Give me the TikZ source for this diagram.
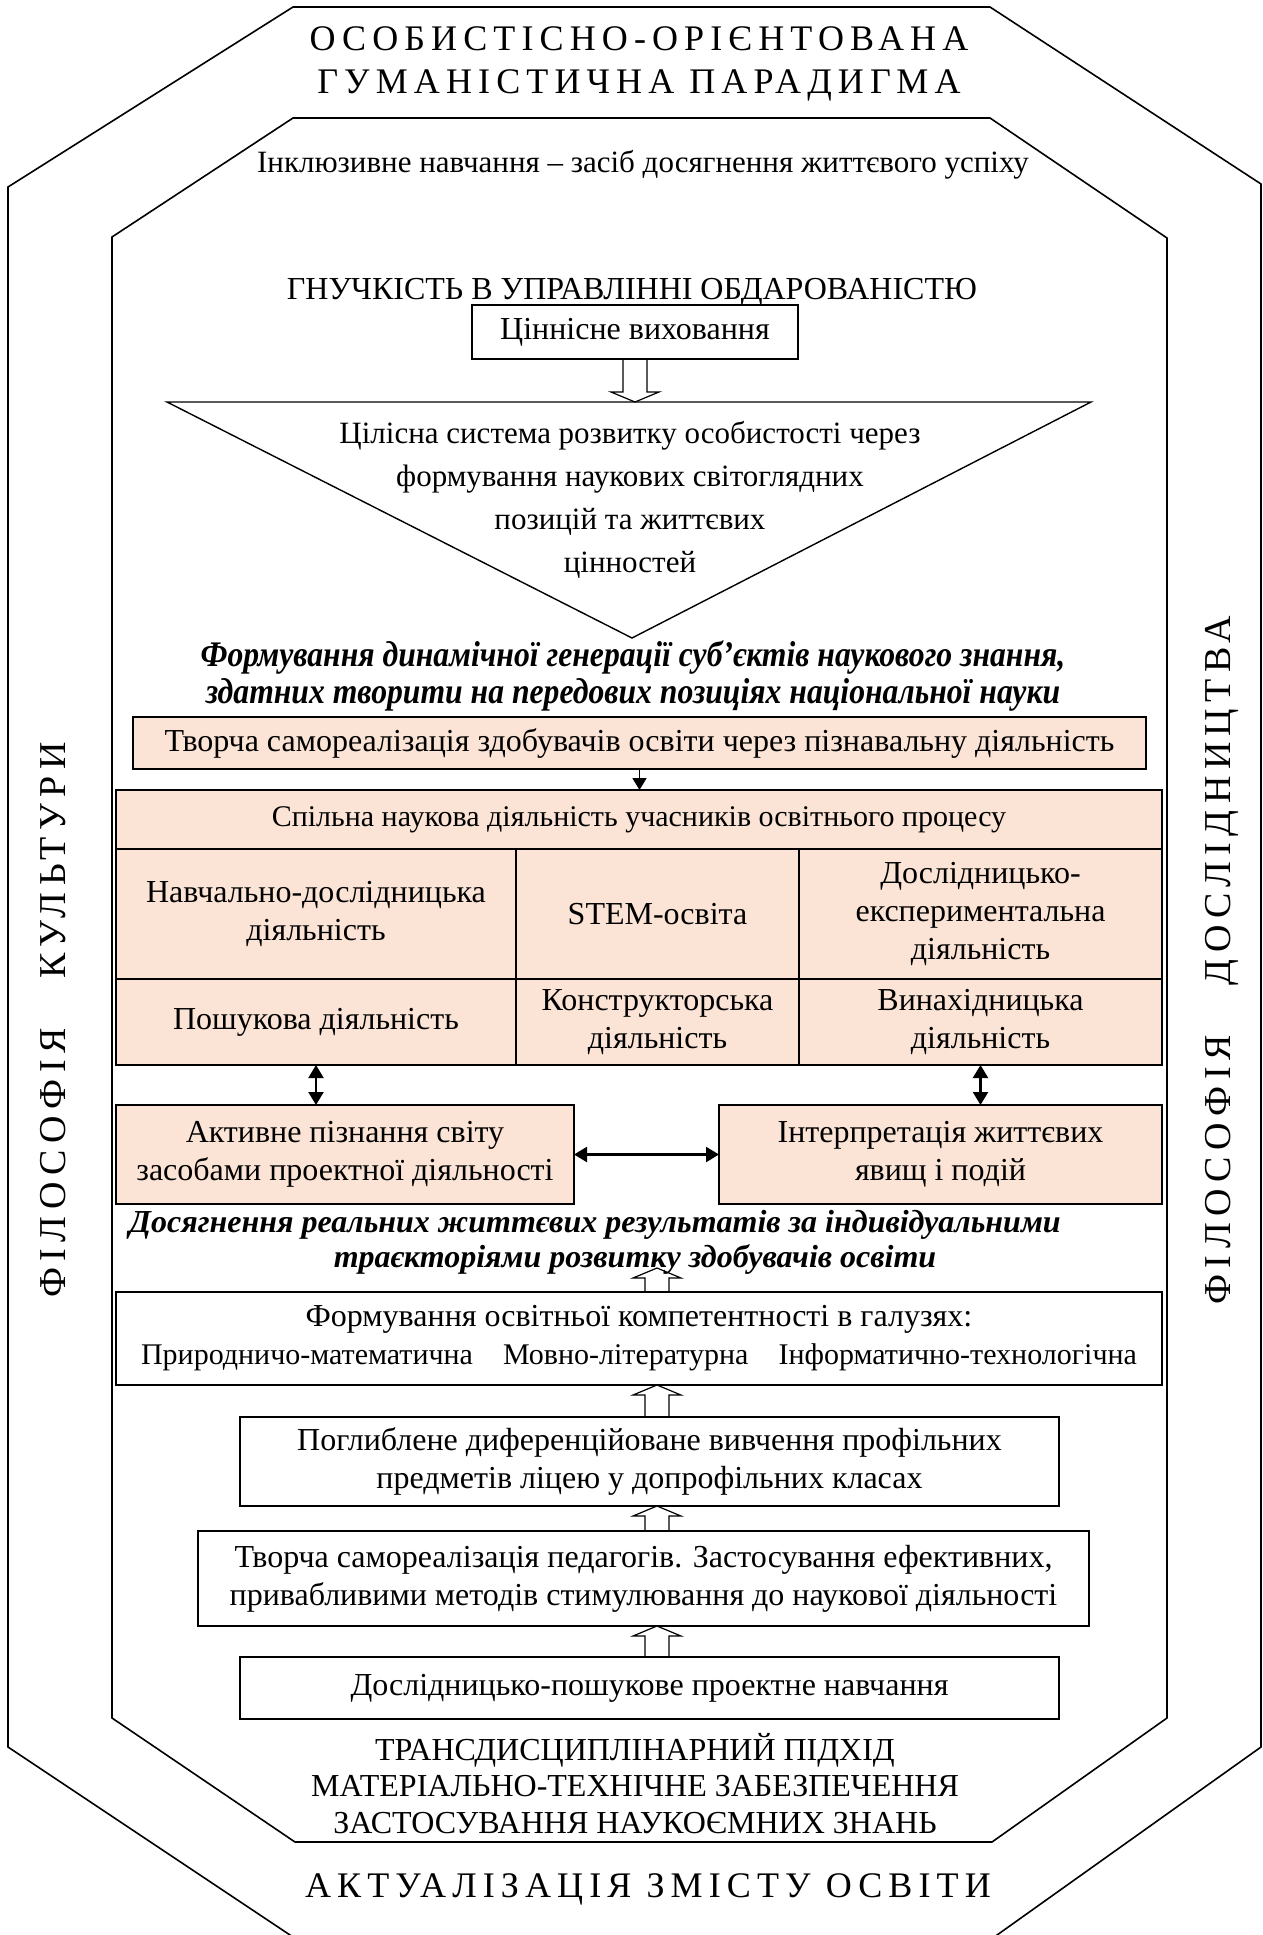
\documentclass[tikz,border=0pt]{standalone}
\usepackage{fontspec}
\setmainfont{Liberation Serif}
\newfontfamily\spacedfont[LetterSpace=17]{Liberation Serif}
\newfontfamily\sidefam[LetterSpace=17]{Liberation Serif}
\newfontfamily\condfam[FakeStretch=0.88]{Liberation Serif}
\usetikzlibrary{arrows.meta,positioning,calc}
\definecolor{peach}{HTML}{FBE4D5}
\newcommand\bodyfont{\fontsize{32}{38}\selectfont}
\newcommand\trifont{\fontsize{31}{43}\selectfont}
\newcommand\capsfont{\spacedfont\fontsize{36}{43}\selectfont}
\newcommand\sidefont{\sidefam\fontsize{38}{40}\selectfont}
\newcommand\emfont{\bfseries\itshape\fontsize{32}{34}\selectfont}
\newcommand\condfont{\condfam\bfseries\itshape\fontsize{36}{37}\selectfont}
\tikzset{
  rim/.style={line width=1.6pt},
  box/.style={draw,line width=1.4pt,align=center,inner sep=0pt,outer sep=0pt,font=\bodyfont},
  peachbox/.style={box,fill=peach},
  cell/.style={peachbox,anchor=north west},
  plain/.style={align=center,inner sep=0pt,font=\bodyfont},
  hollow/.style={line width=1.2pt},
  linkarrow/.style={line width=1.8pt,-{Triangle[length=12pt,width=14pt]}},
  bothway/.style={line width=2.2pt,{Triangle[length=13pt,width=15pt]}-{Triangle[length=13pt,width=15pt]}}
}
% hollow block arrow: from #1 to tip #2, #3 = signed head length
\newcommand\blockarrow[3]{%
  \draw[hollow] ($(#1)+(-12,0)$) -- ($(#2)+(-12,#3)$) -- ($(#2)+(-24,#3)$) -- (#2)
    -- ($(#2)+(24,#3)$) -- ($(#2)+(12,#3)$) -- ($(#1)+(12,0)$);}

\begin{document}
\begin{tikzpicture}[x=1pt,y=-1pt]
\useasboundingbox (0,0) rectangle (1263,1935);
% two octagons
\draw[rim] (293,7) -- (990,7) -- (1261,184) -- (1261,1747) -- (983,1945) -- (305,1945) -- (8,1747) -- (8,187) -- cycle;
\draw[rim] (293,118) -- (990,118) -- (1167,238) -- (1167,1718) -- (992,1842) -- (295,1842) -- (112,1718) -- (112,237) -- cycle;

\node[plain,font=\capsfont] (paradigm) at (639,64) {ОСОБИСТІСНО-ОРІЄНТОВАНА\\ГУМАНІСТИЧНА ПАРАДИГМА};
\node[plain,font=\fontsize{31}{38}\selectfont] (inclus) at (643,165) {Інклюзивне навчання – засіб досягнення життєвого успіху};
\node[plain] (gnuch) at (632,292) {ГНУЧКІСТЬ В УПРАВЛІННІ ОБДАРОВАНІСТЮ};
\node[box,minimum width=326pt,minimum height=54pt] (cinn) at (635,332) {Ціннісне виховання};

% triangle
\coordinate (tl) at (167,402);
\coordinate (tr) at (1091,402);
\coordinate (apex) at (632,638);
\draw[line width=1.4pt] (tl) -- (tr) -- (apex) -- cycle;
\node[plain,font=\trifont] (tritext) at (630,500) {Цілісна система розвитку особистості через\\формування наукових світоглядних\\позицій та життєвих\\цінностей};
\blockarrow{cinn.south}{cinn.south |- tl}{-10}

\node[plain,font=\condfont] (generac) at (633,676) {Формування динамічної генерації суб’єктів наукового знання,\\здатних творити на передових позиціях національної науки};
\node[peachbox,minimum width=1013pt,minimum height=52pt] (tvorzd) at (639.5,743) {Творча самореалізація здобувачів освіти через пізнавальну діяльність};

% grid
\node[cell,font=\fontsize{30}{37}\selectfont,minimum width=1046pt,minimum height=59pt] (spilna) at (116,790) {Спільна наукова діяльність учасників освітнього процесу};
\node[cell,minimum width=400pt,minimum height=130pt] (navch) at (spilna.south west) {Навчально-дослідницька\\діяльність};
\node[cell,minimum width=283pt,minimum height=130pt] (stem) at (navch.north east) {STEM-освіта};
\node[cell,minimum width=363pt,minimum height=130pt] (eksper) at (stem.north east) {Дослідницько-\\експериментальна\\діяльність};
\node[cell,minimum width=400pt,minimum height=86pt] (poshuk) at (navch.south west) {Пошукова діяльність};
\node[cell,minimum width=283pt,minimum height=86pt] (konstr) at (poshuk.north east) {Конструкторська\\діяльність};
\node[cell,minimum width=363pt,minimum height=86pt] (vynah) at (konstr.north east) {Винахідницька\\діяльність};
\draw[linkarrow] (tvorzd.south) -- (tvorzd.south |- spilna.north);

\node[cell,minimum width=458pt,minimum height=99pt] (aktyv) at (116,1105) {Активне пізнання світу\\засобами проектної діяльності};
\node[cell,minimum width=443pt,minimum height=99pt] (interp) at (719,1105) {Інтерпретація життєвих\\явищ і подій};
\draw[bothway] (poshuk.south) -- (poshuk.south |- aktyv.north);
\draw[bothway] (vynah.south) -- (vynah.south |- interp.north);
\draw[bothway] (aktyv.east) -- (interp.west);

\node[plain,font=\emfont] (dosyag) at (595,1225) {Досягнення реальних життєвих результатів за індивідуальними};
\node[plain,font=\emfont] (traekt) at (635,1259) {траєкторіями розвитку здобувачів освіти};

% lower chain
\node[box,minimum width=1046pt,minimum height=93pt,anchor=north west] (kompet) at (116,1292) {Формування освітньої компетентності в галузях:\\{\fontsize{30}{37}\selectfont Природничо-математична\hspace{30pt}Мовно-літературна\hspace{30pt}Інформатично-технологічна}};
\node[box,minimum width=819pt,minimum height=89pt,anchor=north west] (poglyb) at (240,1417) {Поглиблене диференційоване вивчення профільних\\предметів ліцею у допрофільних класах};
\node[box,minimum width=891pt,minimum height=95pt,anchor=north west] (tvorped) at (198,1531) {Творча самореалізація педагогів. Застосування ефективних,\\привабливими методів стимулювання до наукової діяльності};
\node[box,minimum width=819pt,minimum height=62pt,anchor=north west] (doslid) at (240,1657) {Дослідницько-пошукове проектне навчання};

\coordinate (spine) at (657,0);
\coordinate (tipA) at (657,1268);
\blockarrow{kompet.north -| spine}{tipA}{10}
\blockarrow{poglyb.north -| spine}{kompet.south -| spine}{10}
\blockarrow{tvorped.north -| spine}{poglyb.south -| spine}{10}
\blockarrow{doslid.north -| spine}{tvorped.south -| spine}{10}

\node[plain,font=\fontsize{32}{36.5}\selectfont] (transd) at (635,1783.5) {ТРАНСДИСЦИПЛІНАРНИЙ ПІДХІД\\МАТЕРІАЛЬНО-ТЕХНІЧНЕ ЗАБЕЗПЕЧЕННЯ\\ЗАСТОСУВАННЯ НАУКОЄМНИХ ЗНАНЬ};
\node[plain,font=\capsfont] (aktual) at (648,1889) {АКТУАЛІЗАЦІЯ ЗМІСТУ ОСВІТИ};

% side captions
\node[plain,font=\sidefont,rotate=90] (filkult) at (53,1020) {ФІЛОСОФІЯ\hspace{50pt}КУЛЬТУРИ};
\node[plain,font=\sidefont,rotate=90] (fildosl) at (1222,960) {ФІЛОСОФІЯ\hspace{50pt}ДОСЛІДНИЦТВА};
\end{tikzpicture}
\end{document}
